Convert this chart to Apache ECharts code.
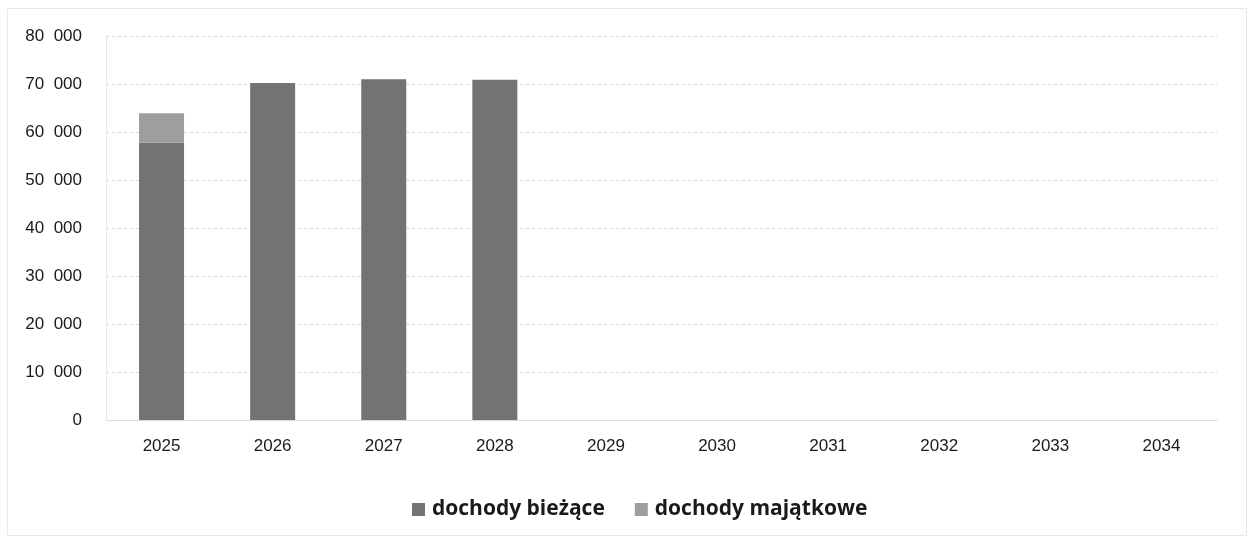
<!DOCTYPE html>
<html>
<head>
<meta charset="utf-8">
<script src="https://cdn.jsdelivr.net/npm/echarts@6/dist/echarts.min.js"></script>
<style>
html,body{margin:0;padding:0;background:#fff;}
#chart{width:1247px;height:536px;}
</style>
</head>
<body>
<div id="chart"></div>
<script>
const categories = ['2025','2026','2027','2028','2029','2030','2031','2032','2033','2034'];
const biezace = [57800, 70200, 71000, 70900, null, null, null, null, null, null];
const majatkowe = [6100, null, null, null, null, null, null, null, null, null];
const yTicks = [0, 10000, 20000, 30000, 40000, 50000, 60000, 70000, 80000];

const chart = echarts.init(document.getElementById('chart'));
chart.setOption({
  animation: false,
  backgroundColor: '#ffffff',
  graphic: [{
    type: 'rect', left: 5, top: 6, shape: {width: 1239, height: 527},
    style: {fill: 'none', stroke: '#e8e8e8', lineWidth: 1}, silent: true
  }],
  grid: {left: 106, right: 30, top: 36, bottom: 116, containLabel: false},
  legend: {
    top: 494, left: 407,
    itemWidth: 13, itemHeight: 13, itemGap: 30, icon: 'rect',
    textStyle: {fontFamily: 'Open Sans', fontWeight: 'bold', fontSize: 21, color: '#1a1a1a', padding: [0,0,0,2]},
    data: ['dochody bieżące', 'dochody majątkowe']
  },
  xAxis: {
    type: 'category', data: categories,
    axisLine: {lineStyle: {color: '#dcdcdc'}},
    axisTick: {show: false},
    axisLabel: {fontFamily: 'Liberation Sans', fontSize: 17, color: '#1a1a1a', margin: 18}
  },
  yAxis: {
    type: 'value', min: yTicks[0], max: yTicks[yTicks.length-1], interval: 10000,
    axisLine: {show: true, lineStyle: {color: '#e8e8e8'}},
    axisTick: {show: false},
    splitLine: {lineStyle: {color: '#d6d6d6', type: [3, 3]}},
    axisLabel: {
      fontFamily: 'Liberation Sans', fontSize: 17, color: '#1a1a1a', margin: 24,
      formatter: v => v === 0 ? '0' : String(v).replace(/\B(?=(\d{3})+(?!\d))/g, '  ')
    }
  },
  series: [
    {name: 'dochody bieżące', type: 'bar', stack: 'a', data: biezace, barWidth: 45,
     itemStyle: {color: '#737373'}},
    {name: 'dochody majątkowe', type: 'bar', stack: 'a', data: majatkowe, barWidth: 45,
     itemStyle: {color: '#9e9e9e'}}
  ]
});
</script>
</body>
</html>
